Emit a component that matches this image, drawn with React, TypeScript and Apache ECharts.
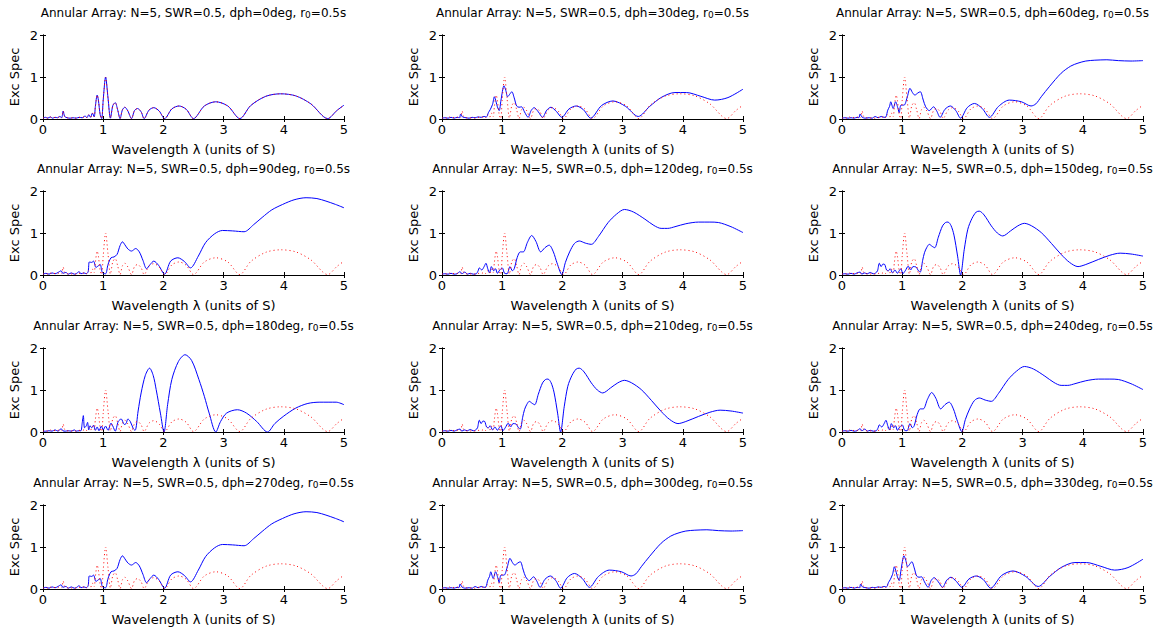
import React, { useEffect, useRef } from "react";
import * as echarts from "echarts";

const PHASES = [0, 30, 60, 90, 120, 150, 180, 210, 240, 270, 300, 330];
const X_TICKS = [0, 1, 2, 3, 4, 5];
const Y_TICKS = [0, 1, 2];

// reference curve (dph = 0), drawn red dotted in every panel
const REF: number[][] = [
  [0, 0.02], [0.04, 0.04], [0.08, 0.02], [0.12, 0.05], [0.16, 0.02], [0.2, 0.04], [0.24, 0.03], [0.28, 0.06],
  [0.31, 0.03], [0.335, 0.19], [0.36, 0.06], [0.4, 0.03], [0.45, 0.02], [0.5, 0.03], [0.55, 0.02], [0.6, 0.04],
  [0.65, 0.03], [0.7, 0.07], [0.73, 0.03], [0.76, 0.1], [0.79, 0.04], [0.82, 0.14], [0.85, 0.05], [0.87, 0.3],
  [0.9, 0.57], [0.92, 0.45], [0.95, 0.1], [0.975, 0.01], [1.0, 0.45], [1.04, 1.0], [1.08, 0.5], [1.12, 0.02],
  [1.16, 0.32], [1.2, 0.39], [1.24, 0.22], [1.28, 0.01], [1.32, 0.22], [1.36, 0.28], [1.41, 0.19], [1.47, 0.01],
  [1.52, 0.2], [1.57, 0.25], [1.63, 0.17], [1.68, 0.01], [1.76, 0.21], [1.84, 0.27], [1.93, 0.19], [2.02, 0.01],
  [2.14, 0.24], [2.26, 0.31], [2.38, 0.23], [2.5, 0.01], [2.68, 0.31], [2.87, 0.41], [3.07, 0.31], [3.27, 0.01],
  [3.45, 0.32], [3.7, 0.54], [3.95, 0.6], [4.2, 0.55], [4.45, 0.36], [4.73, 0.01], [4.88, 0.2], [5.0, 0.33],
];

const C30: number[][] = [
  [0, 0.02], [0.05, 0.03], [0.1, 0.02], [0.15, 0.04], [0.2, 0.02], [0.25, 0.04], [0.29, 0.03], [0.31, 0.12],
  [0.34, 0.05], [0.4, 0.03], [0.45, 0.02], [0.5, 0.04], [0.55, 0.03], [0.6, 0.05], [0.65, 0.04], [0.7, 0.06],
  [0.74, 0.05], [0.77, 0.15], [0.8, 0.22], [0.84, 0.35], [0.87, 0.53], [0.9, 0.4], [0.92, 0.29], [0.95, 0.2],
  [0.98, 0.45], [1.03, 0.79], [1.06, 0.68], [1.09, 0.53], [1.13, 0.6], [1.16, 0.65], [1.2, 0.5], [1.24, 0.31],
  [1.28, 0.28], [1.32, 0.29], [1.37, 0.17], [1.43, 0.04], [1.48, 0.2], [1.53, 0.27], [1.6, 0.17], [1.67, 0.04],
  [1.74, 0.21], [1.81, 0.28], [1.9, 0.18], [1.99, 0.04], [2.11, 0.24], [2.23, 0.31], [2.35, 0.22], [2.47, 0.02],
  [2.65, 0.32], [2.84, 0.43], [3.05, 0.3], [3.26, 0.06], [3.45, 0.3], [3.65, 0.52], [3.87, 0.63], [4.06, 0.63],
  [4.3, 0.54], [4.53, 0.45], [4.75, 0.51], [5.0, 0.71],
];

const C60: number[][] = [
  [0, 0.02], [0.05, 0.03], [0.1, 0.02], [0.15, 0.03], [0.2, 0.02], [0.25, 0.04], [0.28, 0.03], [0.3, 0.12],
  [0.33, 0.05], [0.38, 0.02], [0.45, 0.03], [0.5, 0.02], [0.55, 0.06], [0.6, 0.03], [0.65, 0.06], [0.7, 0.04],
  [0.73, 0.05], [0.76, 0.21], [0.79, 0.3], [0.81, 0.41], [0.85, 0.25], [0.89, 0.41], [0.93, 0.25], [0.95, 0.15],
  [0.98, 0.33], [1.03, 0.33], [1.08, 0.5], [1.13, 0.73], [1.17, 0.63], [1.21, 0.57], [1.26, 0.62], [1.3, 0.65],
  [1.35, 0.45], [1.39, 0.29], [1.45, 0.2], [1.52, 0.29], [1.57, 0.2], [1.63, 0.04], [1.71, 0.23], [1.8, 0.31],
  [1.89, 0.2], [1.97, 0.02], [2.08, 0.27], [2.2, 0.37], [2.33, 0.25], [2.45, 0.04], [2.6, 0.3], [2.78, 0.45],
  [2.98, 0.41], [3.14, 0.31], [3.22, 0.36], [3.31, 0.53], [3.45, 0.78], [3.64, 1.09], [3.8, 1.26], [3.92, 1.33],
  [4.05, 1.38], [4.2, 1.4], [4.4, 1.41], [4.59, 1.39], [4.8, 1.38], [5.0, 1.39],
];

const C90: number[][] = [
  [0, 0.02], [0.05, 0.04], [0.1, 0.02], [0.15, 0.05], [0.2, 0.03], [0.25, 0.06], [0.3, 0.1], [0.33, 0.04],
  [0.38, 0.06], [0.42, 0.02], [0.47, 0.05], [0.52, 0.02], [0.56, 0.04], [0.6, 0.08], [0.63, 0.03], [0.68, 0.05],
  [0.72, 0.03], [0.75, 0.08], [0.77, 0.31], [0.81, 0.3], [0.84, 0.33], [0.88, 0.18], [0.92, 0.22], [0.95, 0.25],
  [0.98, 0.08], [1.0, 0.04], [1.04, 0.03], [1.08, 0.25], [1.13, 0.41], [1.18, 0.43], [1.23, 0.49], [1.28, 0.7],
  [1.32, 0.79], [1.36, 0.72], [1.41, 0.62], [1.47, 0.57], [1.54, 0.63], [1.6, 0.55], [1.66, 0.35], [1.72, 0.15],
  [1.78, 0.25], [1.84, 0.33], [1.92, 0.23], [2.02, 0.02], [2.12, 0.33], [2.24, 0.41], [2.35, 0.32], [2.45, 0.17],
  [2.58, 0.45], [2.7, 0.77], [2.85, 0.98], [2.98, 1.06], [3.15, 1.05], [3.34, 1.03], [3.5, 1.2], [3.64, 1.37],
  [3.8, 1.55], [3.98, 1.68], [4.17, 1.79], [4.37, 1.84], [4.55, 1.82], [4.7, 1.76], [4.86, 1.68], [5.0, 1.6],
];

const C120: number[][] = [
  [0, 0.02], [0.05, 0.03], [0.1, 0.02], [0.15, 0.04], [0.2, 0.02], [0.25, 0.03], [0.3, 0.08], [0.33, 0.03],
  [0.38, 0.07], [0.42, 0.02], [0.47, 0.04], [0.52, 0.02], [0.57, 0.03], [0.6, 0.1], [0.62, 0.17], [0.66, 0.12],
  [0.7, 0.2], [0.73, 0.28], [0.76, 0.15], [0.79, 0.05], [0.82, 0.2], [0.86, 0.1], [0.89, 0.15], [0.92, 0.04],
  [0.96, 0.12], [1.0, 0.17], [1.04, 0.04], [1.08, 0.03], [1.13, 0.2], [1.17, 0.1], [1.2, 0.15], [1.25, 0.42],
  [1.3, 0.55], [1.35, 0.55], [1.42, 0.78], [1.49, 0.94], [1.56, 0.8], [1.64, 0.55], [1.71, 0.65], [1.78, 0.71],
  [1.85, 0.55], [1.91, 0.29], [1.99, 0.01], [2.05, 0.3], [2.12, 0.55], [2.2, 0.75], [2.28, 0.81], [2.38, 0.76],
  [2.48, 0.73], [2.6, 0.92], [2.76, 1.25], [2.9, 1.45], [3.03, 1.56], [3.18, 1.5], [3.37, 1.33], [3.52, 1.18],
  [3.64, 1.11], [3.75, 1.11], [3.87, 1.15], [4.05, 1.22], [4.26, 1.26], [4.45, 1.26], [4.59, 1.25], [4.8, 1.15],
  [5.0, 1.01],
];

const C150: number[][] = [
  [0, 0.02], [0.05, 0.03], [0.1, 0.02], [0.15, 0.04], [0.2, 0.02], [0.25, 0.05], [0.3, 0.07], [0.33, 0.02],
  [0.37, 0.05], [0.42, 0.03], [0.47, 0.06], [0.52, 0.03], [0.56, 0.05], [0.59, 0.1], [0.62, 0.28], [0.65, 0.2],
  [0.68, 0.26], [0.71, 0.25], [0.74, 0.12], [0.77, 0.1], [0.8, 0.15], [0.84, 0.05], [0.88, 0.12], [0.92, 0.04],
  [0.95, 0.1], [0.98, 0.15], [1.01, 0.03], [1.05, 0.1], [1.1, 0.21], [1.14, 0.12], [1.18, 0.2], [1.23, 0.19],
  [1.27, 0.1], [1.3, 0.07], [1.34, 0.35], [1.37, 0.53], [1.41, 0.66], [1.45, 0.73], [1.5, 0.68], [1.54, 0.65],
  [1.6, 0.9], [1.67, 1.17], [1.72, 1.25], [1.76, 1.26], [1.81, 1.18], [1.86, 0.95], [1.92, 0.45], [1.97, 0.0],
  [2.03, 0.6], [2.09, 1.09], [2.16, 1.35], [2.23, 1.5], [2.28, 1.52], [2.36, 1.43], [2.48, 1.17], [2.58, 1.0],
  [2.67, 0.93], [2.8, 1.05], [2.92, 1.17], [3.03, 1.23], [3.15, 1.17], [3.31, 1.01], [3.48, 0.75], [3.64, 0.49],
  [3.78, 0.3], [3.92, 0.2], [4.05, 0.25], [4.26, 0.37], [4.45, 0.47], [4.62, 0.52], [4.8, 0.5], [5.0, 0.45],
];

const C180: number[][] = [
  [0, 0.02], [0.05, 0.02], [0.1, 0.03], [0.15, 0.02], [0.2, 0.05], [0.25, 0.02], [0.3, 0.08], [0.33, 0.03],
  [0.37, 0.02], [0.42, 0.03], [0.47, 0.02], [0.52, 0.05], [0.55, 0.02], [0.6, 0.03], [0.63, 0.03], [0.65, 0.2],
  [0.67, 0.39], [0.69, 0.1], [0.72, 0.15], [0.74, 0.23], [0.76, 0.05], [0.78, 0.15], [0.81, 0.1], [0.84, 0.16],
  [0.87, 0.04], [0.9, 0.12], [0.93, 0.03], [0.97, 0.14], [1.0, 0.05], [1.04, 0.14], [1.08, 0.04], [1.13, 0.21],
  [1.16, 0.14], [1.2, 0.02], [1.25, 0.25], [1.3, 0.31], [1.35, 0.18], [1.38, 0.2], [1.41, 0.31], [1.45, 0.25],
  [1.5, 0.08], [1.53, 0.04], [1.58, 0.5], [1.63, 0.93], [1.7, 1.35], [1.77, 1.52], [1.83, 1.35], [1.88, 1.01],
  [1.95, 0.45], [2.01, 0.0], [2.07, 0.65], [2.14, 1.25], [2.25, 1.68], [2.36, 1.84], [2.47, 1.7], [2.59, 1.25],
  [2.68, 0.85], [2.76, 0.45], [2.87, 0.0], [2.95, 0.25], [3.05, 0.45], [3.23, 0.53], [3.38, 0.45], [3.55, 0.25],
  [3.73, 0.0], [3.85, 0.2], [4.0, 0.38], [4.2, 0.57], [4.4, 0.68], [4.6, 0.71], [4.87, 0.71], [5.0, 0.65],
];

const CURVES: Record<number, number[][]> = {
  0: REF, 30: C30, 60: C60, 90: C90, 120: C120, 150: C150, 180: C180,
  210: C150, 240: C120, 270: C90, 300: C60, 330: C30,
};

const FONT = "DejaVu Sans, Verdana, sans-serif";
const COL_LEFT = [43, 442, 842];
const ROW_TOP = [35, 191, 348, 505];
const GW = 301;
const GH = 84;

function buildOption() {
  const grid: any[] = [];
  const xAxis: any[] = [];
  const yAxis: any[] = [];
  const series: any[] = [];
  const title: any[] = [];
  PHASES.forEach((p, i) => {
    const r = Math.floor(i / 3);
    const c = i % 3;
    const left = COL_LEFT[c];
    const top = ROW_TOP[r];
    grid.push({ left, top, width: GW, height: GH, show: true, borderColor: "#000", borderWidth: 0, backgroundColor: "#fff" });
    title.push({
      text: `Annular Array: N=5, SWR=0.5, dph=${p}deg, r{sub|0}=0.5s`,
      left: left + GW / 2,
      top: top - 28,
      textAlign: "center",
      padding: 0,
      textStyle: {
        fontFamily: FONT, fontSize: 12, fontWeight: "normal", color: "#000",
        rich: { sub: { fontFamily: FONT, fontSize: 9, color: "#000", verticalAlign: "bottom", lineHeight: 8 } },
      },
    });
    const axisLine = { show: true, lineStyle: { color: "#000", width: 1 } };
    const axisTick = { show: true, inside: true, length: 3, lineStyle: { color: "#000", width: 1 } };
    const labelStyle = { color: "#000", fontFamily: FONT, fontSize: 13 };
    xAxis.push({
      gridIndex: i, type: "value", position: "bottom", min: X_TICKS[0], max: X_TICKS[X_TICKS.length - 1], interval: 1,
      axisLine, axisTick, splitLine: { show: false },
      axisLabel: { ...labelStyle, margin: 4, formatter: (v: number) => (X_TICKS.includes(v) ? String(v) : "") },
      name: "Wavelength λ (units of S)", nameLocation: "middle", nameGap: 24,
      nameTextStyle: { color: "#000", fontFamily: FONT, fontSize: 13 },
    });
    xAxis.push({
      gridIndex: i, type: "value", position: "top", min: X_TICKS[0], max: X_TICKS[X_TICKS.length - 1], interval: 1,
      axisLine, axisTick, splitLine: { show: false }, axisLabel: { show: false },
    });
    yAxis.push({
      gridIndex: i, type: "value", position: "left", min: Y_TICKS[0], max: Y_TICKS[Y_TICKS.length - 1], interval: 1,
      axisLine, axisTick, splitLine: { show: false },
      axisLabel: { ...labelStyle, margin: 5 },
      name: "Exc Spec", nameLocation: "middle", nameGap: 22,
      nameTextStyle: { color: "#000", fontFamily: FONT, fontSize: 13 },
    });
    yAxis.push({
      gridIndex: i, type: "value", position: "right", min: Y_TICKS[0], max: Y_TICKS[Y_TICKS.length - 1], interval: 1,
      axisLine, axisTick, splitLine: { show: false }, axisLabel: { show: false },
    });
    series.push({
      type: "line", xAxisIndex: 2 * i, yAxisIndex: 2 * i, data: CURVES[p], showSymbol: false, symbol: "none",
      smooth: 0.3, lineStyle: { color: "#0000ff", width: 1 }, silent: true, z: 2,
    });
    series.push({
      type: "line", xAxisIndex: 2 * i, yAxisIndex: 2 * i, data: REF, showSymbol: false, symbol: "none",
      smooth: 0.3, lineStyle: { color: "#ff0000", width: 1, type: [1, 3] }, silent: true, z: 3,
    });
  });
  return { animation: false, backgroundColor: "#fff", title, grid, xAxis, yAxis, series };
}

export default function App() {
  const ref = useRef<HTMLDivElement>(null);
  useEffect(() => {
    if (!ref.current) return;
    const chart = echarts.init(ref.current, undefined, { renderer: "svg" });
    chart.setOption(buildOption() as any);
    return () => chart.dispose();
  }, []);
  return <div ref={ref} style={{ position: "absolute", left: 0, top: 0, width: 1156, height: 632, background: "#fff" }} />;
}
